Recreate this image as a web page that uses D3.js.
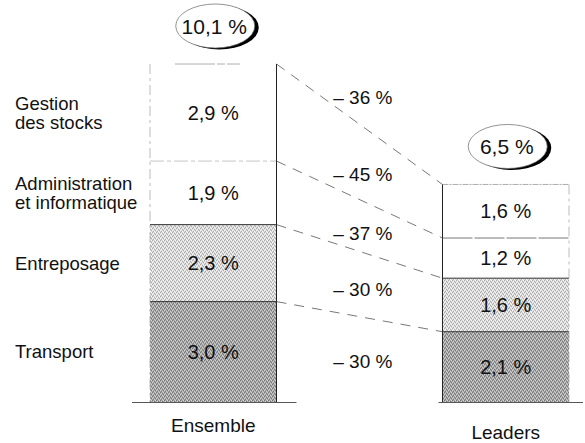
<!DOCTYPE html>
<html>
<head>
<meta charset="utf-8">
<script src="https://cdn.jsdelivr.net/npm/d3@7"></script>
<style>
  html, body { margin: 0; padding: 0; background: #fff; }
  svg text { font-family: "Liberation Sans", Arial, sans-serif; fill: #111; }
</style>
</head>
<body>
<svg id="chart" width="585" height="443"></svg>
<script>
// ---- Data (bottom to top) ----
const categories = ["Transport", "Entreposage", "Administration et informatique", "Gestion des stocks"];
const categoryLines = [["Transport"], ["Entreposage"], ["Administration", "et informatique"], ["Gestion", "des stocks"]];
const groups = ["Ensemble", "Leaders"];
const ensembleValues = [3.0, 2.3, 1.9, 2.9];
const leadersValues = [2.1, 1.6, 1.2, 1.6];
const ensembleLabels = ["3,0 %", "2,3 %", "1,9 %", "2,9 %"];
const leadersLabels = ["2,1 %", "1,6 %", "1,2 %", "1,6 %"];
const totals = [10.1, 6.5];
const totalLabels = ["10,1 %", "6,5 %"];
const changeLabels = ["– 30 %", "– 30 %", "– 37 %", "– 45 %"];
const totalChangeLabel = "– 36 %";

const svg = d3.select("#chart");
const W = 585, H = 443;

const x = d3.scaleBand().domain(groups).range([150, 569]).paddingInner(0.5675).paddingOuter(0);
const y = d3.scaleLinear().domain([0, 10.1]).range([402, 64]);

// stipple patterns
const defs = svg.append("defs");
function stipple(id, base, dark, light) {
  const p = defs.append("pattern").attr("id", id).attr("width", 4).attr("height", 4)
    .attr("patternUnits", "userSpaceOnUse");
  p.append("rect").attr("width", 4).attr("height", 4).attr("fill", base);
  [[0,0],[2,1],[1,3],[3,2]].forEach(([a,b]) => p.append("rect").attr("x", a).attr("y", b).attr("width", 1).attr("height", 1).attr("fill", dark));
  [[1,1],[3,0],[0,2],[2,3]].forEach(([a,b]) => p.append("rect").attr("x", a).attr("y", b).attr("width", 1).attr("height", 1).attr("fill", light));
}
stipple("pTransport", "#a8a8a8", "#767676", "#cfcfcf");
stipple("pEntre", "#dadada", "#ababab", "#f6f6f6");
const fillRefs = ["url(#pTransport)", "url(#pEntre)", "#fff", "#fff"];

const series = { Ensemble: ensembleValues, Leaders: leadersValues };
const labels = { Ensemble: ensembleLabels, Leaders: leadersLabels };

function stack(vals) {
  let c = 0;
  return vals.map(v => { const s = { y0: c, y1: c + v }; c += v; return s; });
}
const stacks = {};
groups.forEach(g => { stacks[g] = stack(series[g]); });

// bars
groups.forEach((g, gi) => {
  const gEl = svg.append("g");
  const x0 = x(g), bw = x.bandwidth();
  const isE = g === "Ensemble";
  const top = y(totals[gi]);
  gEl.selectAll("rect").data(stacks[g]).join("rect")
    .attr("x", x0).attr("width", bw)
    .attr("y", d => y(d.y1)).attr("height", d => y(d.y0) - y(d.y1))
    .attr("fill", (d, i) => fillRefs[i]);
  // separators
  gEl.selectAll("line.sep").data(stacks[g].slice(0, 3)).join("line")
    .attr("class", "sep")
    .attr("x1", x0).attr("x2", x0 + bw)
    .attr("y1", d => y(d.y1)).attr("y2", d => y(d.y1))
    .attr("stroke", (d, i) => i === 2 ? (isE ? "#b5b5b5" : "#555") : "#333")
    .attr("stroke-width", (d, i) => i === 2 ? 0.8 : 1)
    .attr("stroke-dasharray", (d, i) => i === 2 ? (isE ? "14,3,4,3" : "30,2") : null);
  // top edge
  gEl.append("line").attr("x1", isE ? x0 + 25 : x0).attr("x2", isE ? x0 + 90 : x0 + bw)
    .attr("y1", top).attr("y2", top)
    .attr("stroke", "#999").attr("stroke-width", 0.8).attr("stroke-dasharray", isE ? "40,2,8,2" : "6,1,2,1");
  // side edges
  const solidX = isE ? x0 + bw : x0;
  const faintX = isE ? x0 : x0 + bw;
  gEl.append("line").attr("x1", solidX).attr("x2", solidX).attr("y1", top).attr("y2", y(0))
    .attr("stroke", "#222").attr("stroke-width", 1);
  gEl.append("line").attr("x1", faintX).attr("x2", faintX).attr("y1", top).attr("y2", y(0))
    .attr("stroke", "#aaa").attr("stroke-width", 0.8).attr("stroke-dasharray", "10,4,3,4");
  // baseline
  gEl.append("line")
    .attr("x1", isE ? x0 - 18 : x0 - 4)
    .attr("x2", isE ? x0 + bw + 20 : W - 2)
    .attr("y1", y(0) + 0.5).attr("y2", y(0) + 0.5)
    .attr("stroke", "#444").attr("stroke-width", 0.9);
  // segment labels
  gEl.selectAll("text.seg").data(stacks[g]).join("text")
    .attr("class", "seg")
    .attr("x", x0 + bw / 2)
    .attr("y", d => (y(d.y0) + y(d.y1)) / 2)
    .attr("dy", "0.36em")
    .attr("text-anchor", "middle")
    .attr("font-size", 20)
    .text((d, i) => labels[g][i]);
  // group label
  gEl.append("text")
    .attr("x", x0 + bw / 2)
    .attr("y", isE ? y(0) + 30 : y(0) + 37)
    .attr("text-anchor", "middle")
    .attr("font-size", 19)
    .text(g);
  // total ellipse with shadow
  const cx = x0 + bw / 2 + 2, cy = top - 38;
  gEl.append("ellipse").attr("cx", cx + 4).attr("cy", cy + 1.5).attr("rx", 39.5).attr("ry", 22).attr("fill", "#000");
  gEl.append("ellipse").attr("cx", cx).attr("cy", cy).attr("rx", 39.5).attr("ry", 22)
    .attr("fill", "#fff").attr("stroke", "#666").attr("stroke-width", 0.7);
  gEl.append("text").attr("x", cx - 1).attr("y", cy).attr("dy", "0.36em")
    .attr("text-anchor", "middle").attr("font-size", 21).text(totalLabels[gi]);
});

// connectors
const xa = x("Ensemble") + x.bandwidth(), xb = x("Leaders");
const boundaries = stacks.Ensemble.slice(0, 3).map((d, i) => ({ a: d.y1, b: stacks.Leaders[i].y1 }))
  .concat([{ a: totals[0], b: totals[1] }]);
svg.append("g").selectAll("line").data(boundaries).join("line")
  .attr("x1", xa).attr("y1", d => y(d.a))
  .attr("x2", xb).attr("y2", d => y(d.b))
  .attr("stroke", "#555").attr("stroke-width", 0.8).attr("stroke-dasharray", "10,8");

// change labels
const t = 0.62;
const lx = xa + (xb - xa) * 0.52;
svg.append("g").selectAll("text").data(stacks.Ensemble).join("text")
  .attr("x", lx)
  .attr("y", (d, i) => {
    const ma = (y(d.y0) + y(d.y1)) / 2;
    const L = stacks.Leaders[i];
    const mb = (y(L.y0) + y(L.y1)) / 2;
    return ma + (mb - ma) * t;
  })
  .attr("dy", "0.36em")
  .attr("text-anchor", "middle")
  .attr("font-size", 19)
  .text((d, i) => changeLabels[i]);
svg.append("text")
  .attr("x", lx)
  .attr("y", y(totals[0]) + (y(totals[1]) - y(totals[0])) * 0.6 - 39)
  .attr("dy", "0.36em").attr("text-anchor", "middle").attr("font-size", 19)
  .text(totalChangeLabel);

// category labels
const lh = 19;
stacks.Ensemble.forEach((d, i) => {
  const lines = categoryLines[i];
  const mid = (y(d.y0) + y(d.y1)) / 2;
  const start = mid - ((lines.length - 1) * lh) / 2;
  lines.forEach((ln, k) => {
    svg.append("text")
      .attr("x", 15)
      .attr("y", start + k * lh)
      .attr("dy", "0.36em")
      .attr("font-size", 18.5)
      .text(ln);
  });
});
</script>
</body>
</html>
